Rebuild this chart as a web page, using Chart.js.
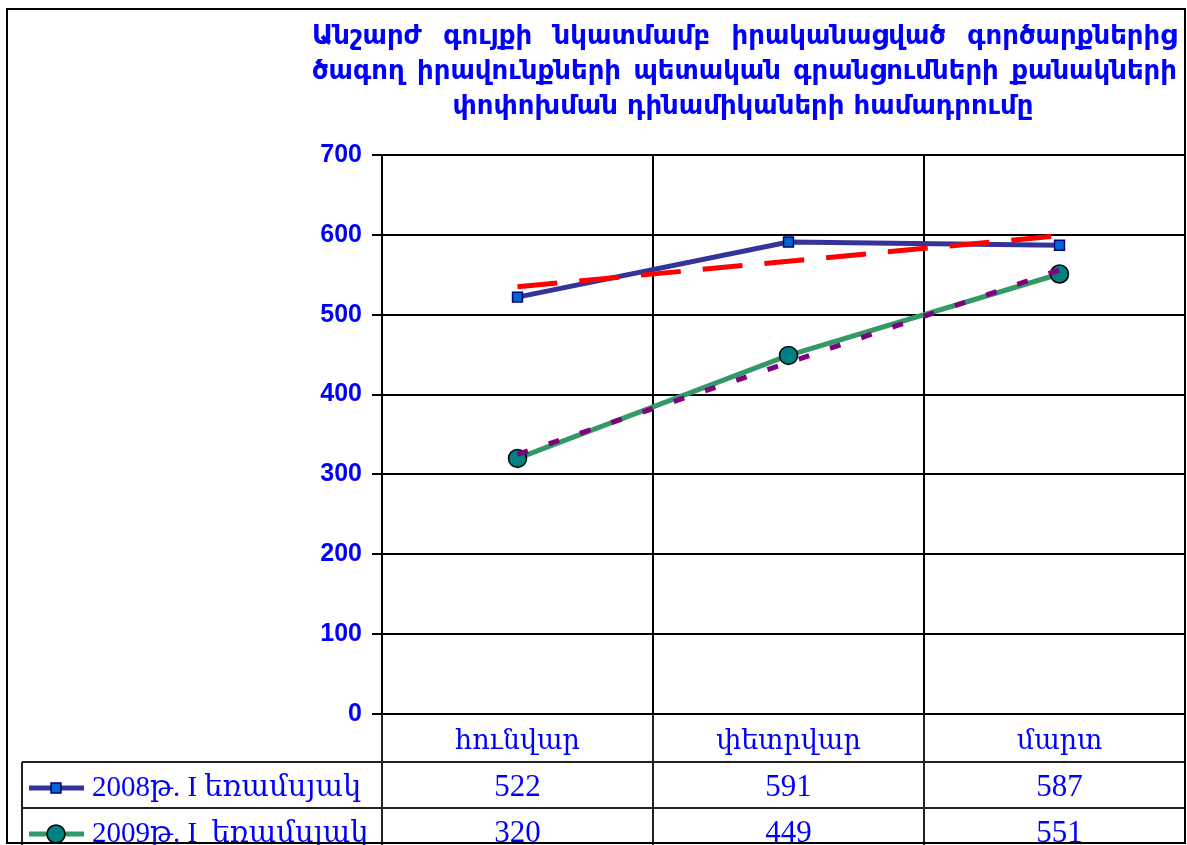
<!DOCTYPE html>
<html>
<head>
<meta charset="utf-8">
<script src="https://cdn.jsdelivr.net/npm/chart.js@4.4.1/dist/chart.umd.min.js"></script>
<style>
  html, body { margin: 0; padding: 0; background: #fff; overflow: hidden; }
  #wrap { width: 1187px; height: 845px; overflow: hidden; }
</style>
</head>
<body>
<div id="wrap"><canvas id="chartCanvas" width="1196" height="845"></canvas></div>
<script>
// --------------------------------------------
// DATA
// --------------------------------------------
const TITLE_LINES = [
    'Անշարժ գույքի նկատմամբ իրականացված գործարքներից',
    'ծագող իրավունքների պետական գրանցումների քանակների',
    'փոփոխման դինամիկաների համադրումը'
];
const MONTHS = ['հունվար', 'փետրվար', 'մարտ'];
const SERIES_NAMES = ['2008թ. I եռամսյակ', '2009թ. I  եռամսյակ'];
const VALUES_2008 = [522, 591, 587];
const VALUES_2009 = [320, 449, 551];
const TREND_2008 = [535, 567, 599];
const TREND_2009 = [325, 440, 556];
const Y_MIN = 0;
const Y_MAX = 700;
const Y_STEP = 100;

// --------------------------------------------
// STYLE
// --------------------------------------------
const BLUE_TEXT = '#0000ff';
const TITLE_FONT = 'bold 26px "DejaVu Sans", sans-serif';
const SERIF = '"Liberation Serif", "DejaVu Serif", serif';
const HEADER_H = 48;
const ROW_H = 46;
const FRAME_RIGHT = 1185;

function drawJustified(ctx, line, left, right, y) {
    const words = line.split(' ');
    let total = 0;
    for (let i = 0; i < words.length; i++) total += ctx.measureText(words[i]).width;
    const gap = (right - left - total) / (words.length - 1);
    let x = left;
    ctx.textAlign = 'left';
    for (let i = 0; i < words.length; i++) {
        ctx.fillText(words[i], x, y);
        x += ctx.measureText(words[i]).width + gap;
    }
}

function drawMarker(ctx, ds, x, y) {
    ctx.save();
    ctx.fillStyle = ds.pointBackgroundColor;
    ctx.strokeStyle = ds.pointBorderColor;
    ctx.lineWidth = ds.pointBorderWidth;
    ctx.beginPath();
    if (ds.pointStyle === 'rect') {
        const s = ds.pointRadius * Math.SQRT1_2;
        ctx.rect(x - s, y - s, 2 * s, 2 * s);
    } else {
        ctx.arc(x, y, ds.pointRadius, 0, Math.PI * 2);
    }
    ctx.fill();
    ctx.stroke();
    ctx.restore();
}

const titlePlugin = {
    id: 'titleText',
    afterDraw(chart) {
        const ctx = chart.ctx;
        ctx.save();
        ctx.fillStyle = BLUE_TEXT;
        ctx.font = TITLE_FONT;
        ctx.textBaseline = 'alphabetic';
        for (let i = 0; i < TITLE_LINES.length; i++) {
            const y = 44 + i * 35;
            if (i < TITLE_LINES.length - 1) {
                drawJustified(ctx, TITLE_LINES[i], 312, 1177, y);
            } else {
                ctx.textAlign = 'center';
                ctx.fillText(TITLE_LINES[i], 743, y);
            }
        }
        ctx.restore();
    }
};

const tablePlugin = {
    id: 'dataTable',
    afterDraw(chart) {
        const ctx = chart.ctx;
        const area = chart.chartArea;
        const xs = chart.scales.x;
        const bottom = chart.height;
        const rowTop = area.bottom + HEADER_H;

        ctx.save();
        // table grid
        ctx.strokeStyle = '#222';
        ctx.lineWidth = 2;
        const bounds = [area.left];
        for (let i = 0; i < MONTHS.length - 1; i++) {
            bounds.push((xs.getPixelForTick(i) + xs.getPixelForTick(i + 1)) / 2);
        }
        bounds.push(area.right);
        ctx.beginPath();
        for (let i = 0; i < bounds.length; i++) {
            ctx.moveTo(bounds[i], area.bottom);
            ctx.lineTo(bounds[i], bottom);
        }
        ctx.moveTo(22, rowTop);
        ctx.lineTo(22, bottom);
        for (let r = 0; r < 2; r++) {
            ctx.moveTo(22, rowTop + r * ROW_H);
            ctx.lineTo(area.right, rowTop + r * ROW_H);
        }
        ctx.stroke();

        // rows: legend key + values
        const series = [chart.data.datasets[2], chart.data.datasets[3]];
        ctx.fillStyle = BLUE_TEXT;
        ctx.textBaseline = 'middle';
        for (let r = 0; r < series.length; r++) {
            const ds = series[r];
            const cy = rowTop + r * ROW_H + ROW_H / 2 + 3;
            ctx.strokeStyle = ds.borderColor;
            ctx.lineWidth = ds.borderWidth;
            ctx.beginPath();
            ctx.moveTo(29, cy);
            ctx.lineTo(84, cy);
            ctx.stroke();
            drawMarker(ctx, ds, 56, cy);

            ctx.fillStyle = BLUE_TEXT;
            ctx.font = '29px ' + SERIF;
            ctx.textAlign = 'left';
            ctx.fillText(ds.label, 92, cy);
            ctx.font = '31px ' + SERIF;
            ctx.textAlign = 'center';
            for (let j = 0; j < ds.data.length; j++) {
                ctx.fillText(String(ds.data[j]), xs.getPixelForTick(j), cy);
            }
        }

        // outer frame (the plot runs on past it and gets cut off)
        ctx.fillStyle = '#fff';
        ctx.fillRect(FRAME_RIGHT + 1, 0, chart.width - FRAME_RIGHT, chart.height);
        ctx.strokeStyle = '#000';
        ctx.lineWidth = 2;
        ctx.strokeRect(7, 9, FRAME_RIGHT - 7, 834);
        ctx.restore();
    }
};

const ctx = document.getElementById('chartCanvas').getContext('2d');
new Chart(ctx, {
    type: 'line',
    data: {
        labels: MONTHS,
        datasets: [{
            label: 'trend 2009',
            data: TREND_2009,
            borderColor: '#800080',
            borderWidth: 5,
            borderDash: [11, 22],
            pointRadius: 0,
            fill: false,
            tension: 0
        }, {
            label: 'trend 2008',
            data: TREND_2008,
            borderColor: '#ff0000',
            borderWidth: 5,
            borderDash: [40, 22],
            pointRadius: 0,
            fill: false,
            tension: 0
        }, {
            label: SERIES_NAMES[0],
            data: VALUES_2008,
            borderColor: '#333399',
            borderWidth: 5,
            pointStyle: 'rect',
            pointRadius: 7,
            pointBackgroundColor: '#0066cc',
            pointBorderColor: '#000080',
            pointBorderWidth: 1.5,
            fill: false,
            tension: 0
        }, {
            label: SERIES_NAMES[1],
            data: VALUES_2009,
            borderColor: '#339966',
            borderWidth: 5,
            pointStyle: 'circle',
            pointRadius: 9,
            pointBackgroundColor: '#008080',
            pointBorderColor: '#000000',
            pointBorderWidth: 1.5,
            fill: false,
            tension: 0
        }]
    },
    options: {
        responsive: false,
        animation: false,
        layout: {
            autoPadding: false,
            padding: { top: 155, right: 1, bottom: 845 - 714 - HEADER_H, left: 0 }
        },
        plugins: {
            legend: { display: false },
            tooltip: { enabled: false },
            title: { display: false }
        },
        scales: {
            x: {
                offset: true,
                grid: { offset: true, color: '#000', lineWidth: 2, drawTicks: false },
                border: { color: '#000', width: 2 },
                ticks: {
                    color: BLUE_TEXT,
                    font: { family: SERIF, size: 27 },
                    padding: 12
                },
                afterFit: function(scale) {
                    scale.height = HEADER_H;
                    scale.paddingLeft = 0;
                    scale.paddingRight = 0;
                }
            },
            y: {
                min: Y_MIN,
                max: Y_MAX,
                grid: { color: '#000', lineWidth: 2, tickLength: 10 },
                border: { color: '#000', width: 2 },
                ticks: {
                    stepSize: Y_STEP,
                    color: BLUE_TEXT,
                    padding: 10,
                    font: { family: '"Liberation Sans", Arial, sans-serif', size: 25, weight: 'bold' }
                },
                afterFit: function(scale) { scale.width = 382; }
            }
        }
    },
    plugins: [titlePlugin, tablePlugin]
});
</script>
</body>
</html>
